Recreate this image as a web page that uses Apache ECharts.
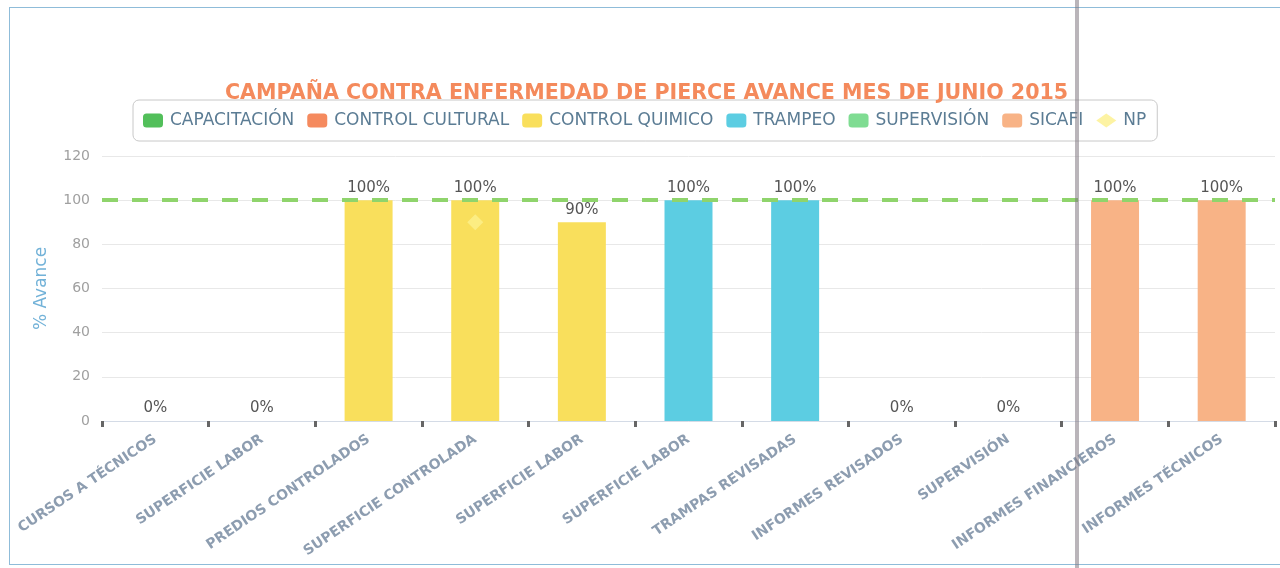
<!DOCTYPE html>
<html>
<head>
<meta charset="utf-8">
<script src="https://cdn.jsdelivr.net/npm/echarts@6/dist/echarts.min.js"></script>
<style>
html,body{margin:0;padding:0;background:#fff;}
#frame{position:absolute;left:9px;top:7px;width:1290px;height:558px;border:1px solid #8fbcd9;box-sizing:border-box;}
#chart{position:absolute;left:0;top:0;width:1280px;height:568px;}
#fold{position:absolute;left:1075px;top:0;width:4px;height:568px;background:rgba(130,120,130,0.55);}
</style>
</head>
<body>
<div id="frame"></div>
<div id="chart"></div>
<div id="fold"></div>
<script>
const titleText = 'CAMPAÑA CONTRA ENFERMEDAD DE PIERCE AVANCE MES DE JUNIO 2015';
const categories = ['CURSOS A TÉCNICOS','SUPERFICIE LABOR','PREDIOS CONTROLADOS','SUPERFICIE CONTROLADA','SUPERFICIE LABOR','SUPERFICIE LABOR','TRAMPAS REVISADAS','INFORMES REVISADOS','SUPERVISIÓN','INFORMES FINANCIEROS','INFORMES TÉCNICOS'];
const seriesNames = ['CAPACITACIÓN','CONTROL CULTURAL','CONTROL QUIMICO','TRAMPEO','SUPERVISIÓN','SICAFI','NP'];
const capacitacion   = [0,'-','-','-','-','-','-','-','-','-','-'];
const controlCultural= ['-',0,'-','-','-','-','-','-','-','-','-'];
const controlQuimico = ['-','-',100,100,90,'-','-','-','-','-','-'];
const trampeo        = ['-','-','-','-','-',100,100,'-','-','-','-'];
const supervision    = ['-','-','-','-','-','-','-',0,0,'-','-'];
const sicafi         = ['-','-','-','-','-','-','-','-','-',100,100];
const np             = ['-','-','-',90,'-','-','-','-','-','-','-'];
const goal = 100;
const yTicks = {min:0, max:120, interval:20};

const colors = ['#52bf5a','#f58a5e','#f9df5c','#5ccde2','#7fdc92','#f8b386','#fdf08c'];
const barData = [capacitacion, controlCultural, controlQuimico, trampeo, supervision, sicafi];

const series = barData.map((d,i)=>({
  name: seriesNames[i],
  type:'bar',
  stack:'all',
  data:d,
  barWidth:'45%',
  itemStyle:{color:colors[i]},
  label:{show:true, position:'top', distance:5, formatter:'{c}%', color:'#555', fontSize:15, fontFamily:'DejaVu Sans'},
  markLine: i===0 ? {
    silent:true, symbol:'none', label:{show:false},
    lineStyle:{type:[16,14], color:'#8fd46c', width:4, opacity:1},
    data:[{yAxis:goal}]
  } : undefined
}));
series.push({
  name: seriesNames[6],
  type:'scatter',
  data: np,
  symbol:'diamond',
  symbolSize:16,
  itemStyle:{color:colors[6]},
  z:5
});

const chart = echarts.init(document.getElementById('chart'));
chart.setOption({
  animation:false,
  color:colors,
  title:{
    text:titleText, left:220, top:78,
    textStyle:{color:'#f48a5c', fontSize:20.6, fontWeight:'bold', fontFamily:'DejaVu Sans'}
  },
  legend:{
    top:100, left:133,
    data: seriesNames.map((n,i)=> i===6 ? {name:n, icon:'diamond'} : {name:n, icon:'roundRect'}),
    itemWidth:20, itemHeight:14, itemGap:13,
    padding:[12,11,12,10],
    borderColor:'#c8c8c8', borderWidth:1, borderRadius:6,
    textStyle:{color:'#5b7c94', fontSize:17, fontFamily:'DejaVu Sans', padding:[0,0,0,2]}
  },
  grid:{left:102, right:5, top:156, bottom:147, containLabel:false},
  xAxis:{
    type:'category', data:categories,
    axisLine:{lineStyle:{color:'#d4dbe6'}},
    axisTick:{show:true, length:6, lineStyle:{color:'#666', width:3}},
    axisLabel:{rotate:34, interval:0, color:'#8d9db0', fontSize:14, fontWeight:'bold', fontFamily:'DejaVu Sans', margin:17}
  },
  yAxis:{
    type:'value', min:yTicks.min, max:yTicks.max, interval:yTicks.interval,
    name:'% Avance', nameLocation:'middle', nameGap:52, nameRotate:90,
    nameTextStyle:{color:'#72b2d8', fontSize:17, fontFamily:'DejaVu Sans'},
    axisLine:{show:false}, axisTick:{show:false},
    axisLabel:{color:'#a0a0a0', fontSize:14, fontFamily:'DejaVu Sans', margin:12},
    splitLine:{lineStyle:{color:'#e8e8e8'}}
  },
  series:series
});
</script>
</body>
</html>
